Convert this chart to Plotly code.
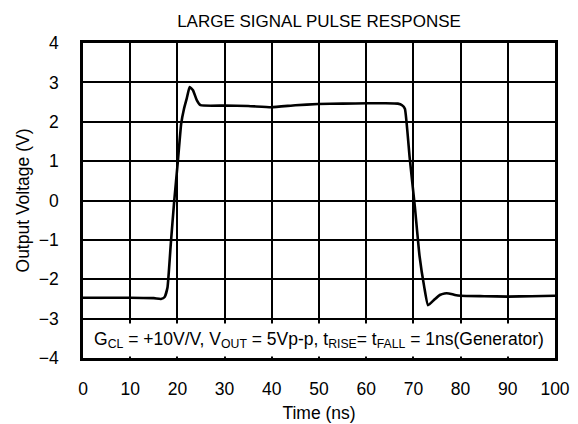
import plotly.graph_objects as go

time_ns = [0, 5, 10, 15, 16.5, 17.3, 17.9, 18.6, 19.3, 20.1, 20.8, 21.4, 22.0, 22.6, 23.3, 24.1, 24.9,
           30, 35, 39.9, 45, 49.8, 55, 60.4, 64, 66.7, 67.6, 68.2, 69.2, 70.3, 71.3, 72.3, 73.1,
           74.5, 75.6, 76.6, 77.5, 78.8, 80, 85, 90, 95, 100]
voltage = [-2.47, -2.47, -2.47, -2.48, -2.5, -2.45, -2.21, -1.1, -0.05, 1.0, 1.95, 2.33, 2.6, 2.88, 2.8, 2.55, 2.42,
           2.41, 2.40, 2.37, 2.42, 2.45, 2.46, 2.47, 2.47, 2.46, 2.42, 2.33, 1.1, -0.15, -1.41, -2.2, -2.66,
           -2.51, -2.4, -2.36, -2.36, -2.4, -2.42, -2.43, -2.44, -2.43, -2.42]

x_ticks = list(range(0, 101, 10))
y_ticks = list(range(-4, 5))

FONT = "Liberation Sans, Arial, sans-serif"
FS = 17.5

fig = go.Figure()

fig.add_trace(go.Scatter(x=time_ns, y=voltage, mode="lines",
                         line=dict(color="black", width=2.6, shape="spline", smoothing=0.4),
                         showlegend=False, hoverinfo="skip"))

fig.add_annotation(x=50, y=-3.55, xref="x", yref="y",
                   text="G<sub>CL</sub> = +10V/V, V<sub>OUT</sub> = 5Vp-p, t<sub>RISE</sub>= t<sub>FALL</sub> = 1ns(Generator)",
                   showarrow=False, bgcolor="white", width=466, height=30,
                   font=dict(family=FONT, size=FS, color="black"))

fig.update_layout(
    width=578, height=424,
    margin=dict(l=75, r=31, t=35, b=71),
    paper_bgcolor="white", plot_bgcolor="white",
    font=dict(family=FONT, size=FS, color="black"),
    title=dict(text="LARGE SIGNAL PULSE RESPONSE", xref="paper", x=0.5, xanchor="center",
               y=1 - 13 / 424, yanchor="middle", font=dict(family=FONT, size=17, color="black")),
    xaxis=dict(range=[0, 100], tickmode="array", tickvals=x_ticks,
               showgrid=True, gridcolor="#000000", gridwidth=2, zeroline=False,
               showline=True, linecolor="black", linewidth=2.5, mirror=True,
               ticks="outside", ticklen=13, tickcolor="rgba(0,0,0,0)",
               tickfont=dict(family=FONT, size=FS, color="black"),
               title=dict(text="Time (ns)", standoff=9, font=dict(family=FONT, size=FS, color="black"))),
    yaxis=dict(range=[-4, 4], tickmode="array", tickvals=y_ticks,
               showgrid=True, gridcolor="#000000", gridwidth=2, zeroline=False,
               showline=True, linecolor="black", linewidth=2.5, mirror=True,
               ticks="outside", ticklen=18, tickcolor="rgba(0,0,0,0)",
               tickfont=dict(family=FONT, size=FS, color="black"),
               title=dict(text="Output Voltage (V)", standoff=5, font=dict(family=FONT, size=FS, color="black"))),
)

fig.write_html("out.html")
